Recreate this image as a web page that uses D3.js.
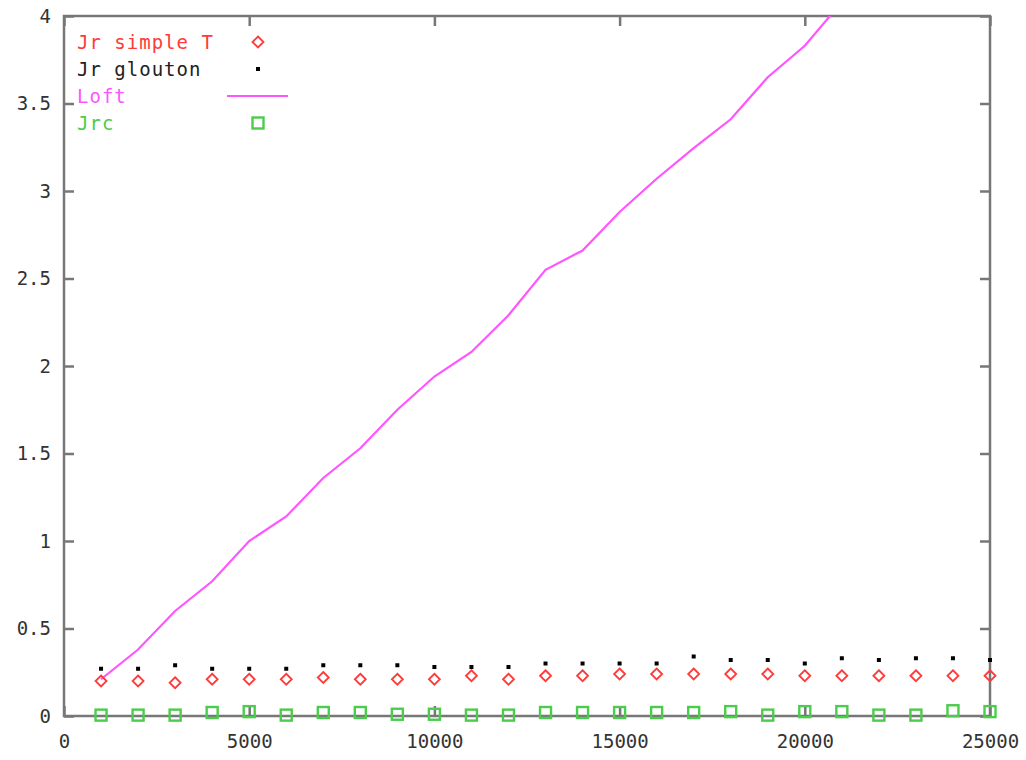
<!DOCTYPE html>
<html>
  <head>
    <meta charset="UTF-8" />
    <title>Jr / Loft</title>
    <style>
      body { margin: 0; background: #fff; }
      text { font-family: "DejaVu Sans Mono", monospace; }
    </style>
  </head>
  <body>
    <svg width="1026" height="760"></svg>

    <script src="https://d3js.org/d3.v7.min.js"></script>
    <script>
      // données
      const tailles = [1000, 2000, 3000, 4000, 5000, 6000, 7000, 8000, 9000, 10000,
        11000, 12000, 13000, 14000, 15000, 16000, 17000, 18000, 19000, 20000,
        21000, 22000, 23000, 24000, 25000];

      const jrSimpleT = [0.20, 0.20, 0.19, 0.21, 0.21, 0.21, 0.22, 0.21, 0.21, 0.21,
        0.23, 0.21, 0.23, 0.23, 0.24, 0.24, 0.24, 0.24, 0.24, 0.23,
        0.23, 0.23, 0.23, 0.23, 0.23];

      const jrGlouton = [0.27, 0.27, 0.29, 0.27, 0.27, 0.27, 0.29, 0.29, 0.29, 0.28,
        0.28, 0.28, 0.30, 0.30, 0.30, 0.30, 0.34, 0.32, 0.32, 0.30,
        0.33, 0.32, 0.33, 0.33, 0.32];

      // Loft sort du cadre après 21000
      const loft = [0.21, 0.38, 0.60, 0.77, 1.00, 1.14, 1.36, 1.53, 1.75, 1.94,
        2.08, 2.29, 2.55, 2.66, 2.88, 3.07, 3.245, 3.41, 3.65, 3.83, 4.08];

      const jrc = [0.005, 0.005, 0.005, 0.02, 0.025, 0.005, 0.02, 0.02, 0.01, 0.01,
        0.005, 0.005, 0.02, 0.02, 0.02, 0.02, 0.02, 0.025, 0.005, 0.025,
        0.025, 0.005, 0.005, 0.03, 0.025];

      const xTicks = [0, 5000, 10000, 15000, 20000, 25000];
      const yTicks = [0, 0.5, 1, 1.5, 2, 2.5, 3, 3.5, 4];

      const noms = ["Jr simple T", "Jr glouton", "Loft", "Jrc"];
      const couleurs = ["#ff3a3a", "#222", "#ff55ff", "#4ccc4c"];

      // dimensions
      const LEFT = 64, RIGHT = 990, TOP = 16, BOTTOM = 716;
      const TICK = 10;

      const x = d3.scaleLinear().domain([0, 25000]).range([LEFT, RIGHT]);
      const y = d3.scaleLinear().domain([0, 4]).range([BOTTOM, TOP]);

      const svg = d3.select("svg");

      svg.append("defs").append("clipPath").attr("id", "cadre")
        .append("rect")
        .attr("x", LEFT).attr("y", TOP)
        .attr("width", RIGHT - LEFT).attr("height", BOTTOM - TOP);

      // axes
      const styleAxe = (g) => {
        g.select(".domain").remove();
        g.selectAll(".tick line").attr("stroke", "#777").attr("stroke-width", 2.5);
        g.selectAll(".tick text")
          .attr("fill", "#333")
          .style("font-size", "19px")
          .style("font-family", '"DejaVu Sans Mono", monospace');
      };

      svg.append("g")
        .attr("transform", `translate(0,${BOTTOM})`)
        .call(d3.axisBottom(x).tickValues(xTicks).tickSize(-TICK).tickPadding(19)
          .tickFormat((d) => String(d)))
        .call(styleAxe);

      svg.append("g")
        .attr("transform", `translate(${LEFT},0)`)
        .call(d3.axisLeft(y).tickValues(yTicks).tickSize(-TICK).tickPadding(13)
          .tickFormat((d) => String(d)))
        .call(styleAxe);

      svg.append("g")
        .attr("transform", `translate(0,${TOP})`)
        .call(d3.axisTop(x).tickValues(xTicks).tickSize(-TICK).tickFormat(""))
        .call(styleAxe);

      svg.append("g")
        .attr("transform", `translate(${RIGHT},0)`)
        .call(d3.axisRight(y).tickValues(yTicks).tickSize(-TICK).tickFormat(""))
        .call(styleAxe);

      // cadre
      svg.append("rect")
        .attr("x", LEFT).attr("y", TOP)
        .attr("width", RIGHT - LEFT).attr("height", BOTTOM - TOP)
        .attr("fill", "none")
        .attr("stroke", "#777")
        .attr("stroke-width", 2.5);

      // symboles
      const losange = (g, cx, cy) => g.append("path")
        .attr("d", `M${cx},${cy - 5.5}L${cx + 5.5},${cy}L${cx},${cy + 5.5}L${cx - 5.5},${cy}Z`)
        .attr("fill", "none").attr("stroke", couleurs[0]).attr("stroke-width", 1.8);

      const point = (g, cx, cy) => g.append("rect")
        .attr("x", cx - 2).attr("y", cy - 2).attr("width", 4).attr("height", 4)
        .attr("fill", "#000");

      const carre = (g, cx, cy) => g.append("rect")
        .attr("x", cx - 5.5).attr("y", cy - 5.5).attr("width", 11).attr("height", 11)
        .attr("fill", "none").attr("stroke", couleurs[3]).attr("stroke-width", 2.4);

      // Loft (coupée par le cadre)
      svg.append("path")
        .datum(loft)
        .attr("clip-path", "url(#cadre)")
        .attr("fill", "none")
        .attr("stroke", couleurs[2])
        .attr("stroke-width", 2.2)
        .attr("d", d3.line().x((d, i) => x(tailles[i])).y((d) => y(d)));

      const pts = svg.append("g");
      jrc.forEach((v, i) => carre(pts, x(tailles[i]), y(v)));
      jrGlouton.forEach((v, i) => point(pts, x(tailles[i]), y(v)));
      jrSimpleT.forEach((v, i) => losange(pts, x(tailles[i]), y(v)));

      // légende
      const leg = svg.append("g");
      const symX = 258, lignes = [42, 69, 96, 123];
      noms.forEach((n, i) => {
        leg.append("text")
          .attr("x", 77).attr("y", lignes[i] + 6.5)
          .attr("fill", couleurs[i])
          .style("font-size", "19px")
          .style("letter-spacing", "1px")
          .text(n);
      });
      losange(leg, symX, lignes[0]);
      point(leg, symX, lignes[1]);
      leg.append("line")
        .attr("x1", symX - 31).attr("x2", symX + 30)
        .attr("y1", lignes[2]).attr("y2", lignes[2])
        .attr("stroke", couleurs[2]).attr("stroke-width", 2.2);
      carre(leg, symX, lignes[3]);
    </script>
  </body>
</html>
